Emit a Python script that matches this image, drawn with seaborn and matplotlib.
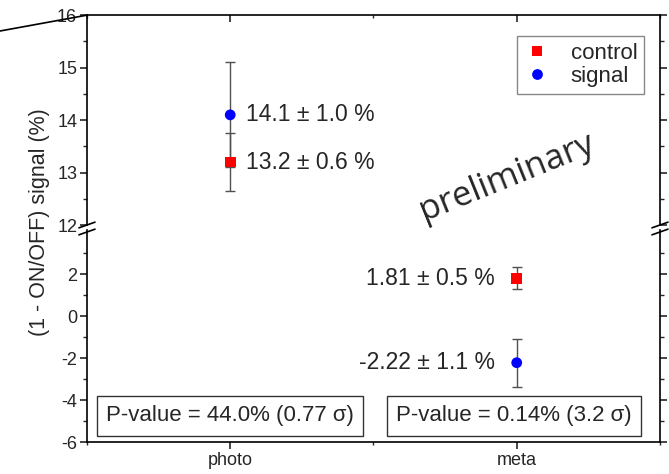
import matplotlib
matplotlib.use('Agg')
import matplotlib.pyplot as plt
from matplotlib.lines import Line2D
from matplotlib.ticker import FixedLocator, MultipleLocator
import seaborn as sns
import pandas as pd
import numpy as np

# data
categories = ['photo', 'photo', 'meta', 'meta']
groups = ['control', 'signal', 'control', 'signal']
values = [13.2, 14.1, 1.81, -2.22]
errors = [0.56, 1.0, 0.52, 1.14]
value_labels = ['13.2 ± 0.6 %', '14.1 ± 1.0 %', '1.81 ± 0.5 %', '-2.22 ± 1.1 %']
pvalue_labels = ['P-value = 44.0% (0.77 σ)', 'P-value = 0.14% (3.2 σ)']

df = pd.DataFrame({'category': categories, 'group': groups,
                   'value': values, 'err': errors})

sns.set_theme(style='ticks')
plt.rcParams['font.family'] = ['Liberation Sans', 'DejaVu Sans']
plt.rcParams['axes.unicode_minus'] = False
plt.rcParams['axes.linewidth'] = 1.2

fig = plt.figure(figsize=(6.69, 4.74), dpi=100)
gs = fig.add_gridspec(2, 1, height_ratios=[210, 212], hspace=0.024,
                      left=0.130, right=0.9865, top=0.968, bottom=0.0675)
ax_top = fig.add_subplot(gs[0])
ax_bot = fig.add_subplot(gs[1], sharex=ax_top)

palette = {'control': 'red', 'signal': 'blue'}
markers = {'control': 's', 'signal': 'o'}

for ax in (ax_top, ax_bot):
    ax.errorbar(df['category'], df['value'], yerr=df['err'], fmt='none',
                ecolor='#505050', elinewidth=1, capsize=3.5, capthick=1, zorder=1)
    sns.scatterplot(data=df, x='category', y='value', hue='group', style='group',
                    palette=palette, markers=markers, s=60, linewidth=0,
                    ax=ax, zorder=3, legend=(ax is ax_top))
    ax.set_xlim(-0.5, 1.5)
    ax.set_xlabel('')
    ax.set_ylabel('')
    ax.xaxis.set_minor_locator(FixedLocator([-0.5, 0.5, 1.5]))
    for s in ax.spines.values():
        s.set_color('black')

# upper segment
ax_top.set_ylim(12, 16)
ax_top.yaxis.set_major_locator(MultipleLocator(1))
ax_top.yaxis.set_minor_locator(MultipleLocator(0.5))
ax_top.spines['bottom'].set_visible(False)
ax_top.tick_params(axis='x', which='both', bottom=False, labelbottom=False,
                   top=True, direction='in')
ax_top.tick_params(axis='x', which='major', length=5, width=1.2)
ax_top.tick_params(axis='x', which='minor', length=2.5, width=1)

# lower segment
ax_bot.set_ylim(-6, 4.1)
ax_bot.yaxis.set_major_locator(FixedLocator([-6, -4, -2, 0, 2]))
ax_bot.yaxis.set_minor_locator(FixedLocator([-5, -3, -1, 1, 3]))
ax_bot.spines['top'].set_visible(False)
ax_bot.tick_params(axis='x', which='both', top=False, bottom=True, direction='out')
ax_bot.tick_params(axis='x', which='major', length=5, width=1.2, labelsize=13, pad=2)
ax_bot.tick_params(axis='x', which='minor', length=2.5, width=1)

for ax in (ax_top, ax_bot):
    ax.tick_params(axis='y', which='both', left=True, right=True, direction='out')
    ax.tick_params(axis='y', which='major', length=5, width=1.2, labelsize=13, pad=2)
    ax.tick_params(axis='y', which='minor', length=3, width=1)

# value annotations
for cat, val, lab in zip(categories, values, value_labels):
    if cat == 'photo':
        ax_top.text(0.056, val, lab, ha='left', va='center', fontsize=16.5)
    else:
        ax_bot.text(0.923, val, lab, ha='right', va='center', fontsize=16.5)

# p-value boxes
for xpos, lab in zip([0.0, 0.99], pvalue_labels):
    ax_bot.text(xpos, -4.76, lab, ha='center', va='center', fontsize=16,
                bbox=dict(boxstyle='square,pad=0.42', fc='white', ec='#333333', lw=1))

sns.move_legend(ax_top, 'upper right', bbox_to_anchor=(0.972, 0.9), title=None,
                frameon=True, fancybox=False, fontsize=16, borderaxespad=0,
                handlelength=1.2, handletextpad=0.9, borderpad=0.3,
                labelspacing=0.1, edgecolor='#888888', framealpha=1)
ax_top.get_legend().get_frame().set_linewidth(1)

# axis break marks
for xf in (0.130, 0.9865):
    for yp in (225, 232):
        yf = 1 - yp / 474
        fig.add_artist(Line2D([xf - 0.012, xf + 0.012], [yf - 0.006, yf + 0.006],
                              color='black', lw=1.2, transform=fig.transFigure))

# stray line at top-left of the original
fig.add_artist(Line2D([0, 0.130], [1 - 31 / 474, 0.968], color='black', lw=1.2,
                      transform=fig.transFigure))

fig.text(40 / 669, 1 - 222 / 474, '(1 - ON/OFF) signal (%)', rotation=90,
         ha='center', va='center', fontsize=15.5)

fig.text(0.757, 0.626, 'preliminary', rotation=22, fontsize=25,
         family=['Open Sans', 'DejaVu Sans'], ha='center', va='center',
         rotation_mode='anchor')

fig.savefig('out.png', dpi=100)
